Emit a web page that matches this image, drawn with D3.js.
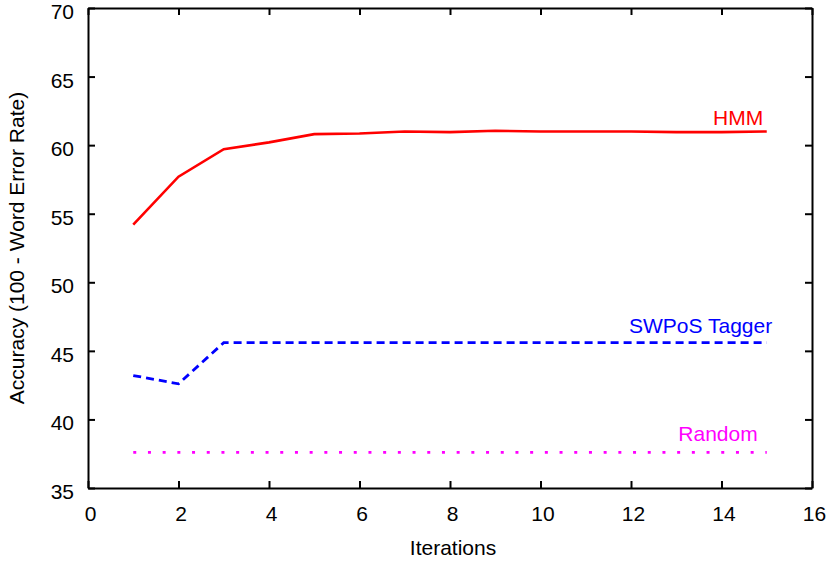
<!DOCTYPE html>
<html>
<head>
<meta charset="utf-8">
<script src="https://cdn.jsdelivr.net/npm/d3@7"></script>
<style>
  body { margin: 0; background: #fff; }
  svg { font-family: "Liberation Sans", Arial, Helvetica, sans-serif; }
</style>
</head>
<body>
<svg width="833" height="561"></svg>
<script>
// данные
const iterations = [1, 2, 3, 4, 5, 6, 7, 8, 9, 10, 11, 12, 13, 14, 15];
const hmm   = [54.2, 57.7, 59.7, 60.2, 60.8, 60.85, 61.0, 60.95, 61.05, 61.0, 61.0, 61.0, 60.95, 60.95, 61.0];
const swpos = [43.2, 42.6, 45.6, 45.6, 45.6, 45.6, 45.6, 45.6, 45.6, 45.6, 45.6, 45.6, 45.6, 45.6, 45.6];
const rnd   = [37.6, 37.6, 37.6, 37.6, 37.6, 37.6, 37.6, 37.6, 37.6, 37.6, 37.6, 37.6, 37.6, 37.6, 37.6];
const xTicks = [0, 2, 4, 6, 8, 10, 12, 14, 16];
const yTicks = [35, 40, 45, 50, 55, 60, 65, 70];

const series = [
  {name: "HMM", values: hmm, color: "#ff0000", dash: null, width: 2.6, labelX: 14.92, labelY: 61.0, dy: -6},
  {name: "SWPoS Tagger", values: swpos, color: "#0000ff", dash: "8,5", width: 2.8, labelX: 15.12, labelY: 45.6, dy: -10},
  {name: "Random", values: rnd, color: "#ff00ff", dash: "3,11.7", width: 2.8, labelX: 14.8, labelY: 37.6, dy: -11}
];

const svg = d3.select("svg");
const area = {left: 88, right: 812, top: 8, bottom: 488};
const fs = 21;

const scX = d3.scaleLinear().domain([0, 16]).range([area.left, area.right]);
const scY = d3.scaleLinear().domain([35, 70]).range([area.bottom, area.top]);

// оси: метки внутрь, зеркальные сверху и справа
const tick = 7;
svg.append("g")
  .attr("class", "ax-x")
  .attr("transform", `translate(0, ${area.bottom})`)
  .call(d3.axisBottom(scX).tickValues(xTicks).tickSizeInner(-tick).tickSizeOuter(0).tickPadding(18));
svg.append("g")
  .attr("transform", `translate(0, ${area.top})`)
  .call(d3.axisTop(scX).tickValues(xTicks).tickSizeInner(-tick).tickSizeOuter(0).tickFormat(""));
svg.append("g")
  .attr("class", "ax-y")
  .attr("transform", `translate(${area.left}, 0)`)
  .call(d3.axisLeft(scY).tickValues(yTicks).tickSizeInner(-tick).tickSizeOuter(0).tickPadding(14));
svg.append("g")
  .attr("transform", `translate(${area.right}, 0)`)
  .call(d3.axisRight(scY).tickValues(yTicks).tickSizeInner(-tick).tickSizeOuter(0).tickFormat(""));

svg.selectAll(".domain").attr("stroke", "#000").attr("stroke-width", 2);
svg.selectAll(".tick line").attr("stroke", "#000").attr("stroke-width", 2);
svg.selectAll(".tick text").attr("font-size", fs).attr("fill", "#000")
  .attr("font-family", "Liberation Sans, Arial, sans-serif");
// подписи по Y в оригинале чуть ниже делений
svg.selectAll(".ax-y .tick text").attr("dy", "0.5em");
svg.selectAll(".ax-x .tick text").attr("dx", 2);

// подписи осей
svg.append("text")
  .attr("x", (area.left + area.right) / 2 + 3)
  .attr("y", 555)
  .attr("text-anchor", "middle")
  .attr("font-size", fs)
  .text("Iterations");
svg.append("text")
  .attr("transform", `translate(24, ${(area.top + area.bottom) / 2}) rotate(-90)`)
  .attr("text-anchor", "middle")
  .attr("font-size", fs)
  .text("Accuracy (100 - Word Error Rate)");

// линии
const line = d3.line()
  .x((d, i) => scX(iterations[i]))
  .y(d => scY(d));

series.forEach(s => {
  svg.append("path")
    .datum(s.values)
    .attr("fill", "none")
    .attr("stroke", s.color)
    .attr("stroke-width", s.width)
    .attr("stroke-dasharray", s.dash)
    .attr("d", line);
  svg.append("text")
    .attr("x", scX(s.labelX))
    .attr("y", scY(s.labelY) + s.dy)
    .attr("text-anchor", "end")
    .attr("font-size", fs)
    .attr("fill", s.color)
    .text(s.name);
});
</script>
</body>
</html>
